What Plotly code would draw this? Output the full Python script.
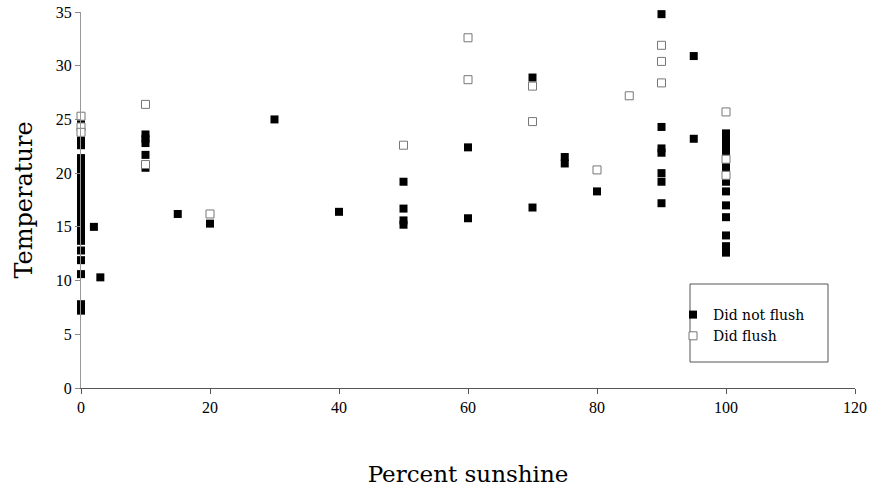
import plotly.graph_objects as go

# Did not flush (filled squares)
nf_x = [0]*26 + [2, 3, 10, 10, 10, 10, 10, 15, 20, 30, 40, 50, 50, 50, 50, 60, 60,
        70, 70, 75, 75, 80, 90, 90, 90, 90, 90, 90, 90, 95, 95] + [100]*14
nf_y = [24.7, 23.0, 22.6, 21.4, 21.0, 20.6, 20.0, 19.5, 19.0, 18.5, 18.0, 17.5, 17.0,
        16.5, 16.0, 15.5, 15.0, 14.5, 14.0, 13.7, 12.8, 11.9, 10.6, 7.8, 7.5, 7.2,
        15.0, 10.3, 23.6, 23.2, 22.8, 21.7, 20.5, 16.2, 15.3, 25.0, 16.4,
        19.2, 16.7, 15.6, 15.2, 22.4, 15.8,
        28.9, 16.8, 21.5, 20.9, 18.3,
        34.8, 24.3, 22.3, 21.9, 20.0, 19.2, 17.2, 30.9, 23.2,
        23.7, 23.1, 22.6, 22.1, 20.7, 19.2, 18.3, 17.0, 15.9, 14.2, 13.2, 12.6, 21.7, 20.2]

# Did flush (open squares)
f_x = [0, 0, 0, 10, 10, 20, 50, 60, 60, 70, 70, 80, 85, 90, 90, 90, 100, 100, 100]
f_y = [25.3, 24.3, 23.8, 26.4, 20.8, 16.2, 22.6, 32.6, 28.7, 28.1, 24.8, 20.3, 27.2,
       31.9, 30.4, 28.4, 25.7, 21.3, 19.8]

x_ticks = [0, 20, 40, 60, 80, 100, 120]
y_ticks = [0, 5, 10, 15, 20, 25, 30, 35]

TICKFONT = "Liberation Serif"
TITLEFONT = "DejaVu Serif"

fig = go.Figure()
fig.add_trace(go.Scatter(
    x=nf_x, y=nf_y, mode="markers", name="Did not flush", cliponaxis=False,
    marker=dict(symbol="square", size=8, color="black", line=dict(width=0)),
))
fig.add_trace(go.Scatter(
    x=f_x, y=f_y, mode="markers", name="Did flush", cliponaxis=False,
    marker=dict(symbol="square", size=8, color="white", line=dict(width=1, color="#777777")),
))

# legend frame
fig.add_shape(type="rect", xref="paper", yref="paper",
              x0=(690 - 81) / 774, x1=(828 - 81) / 774,
              y0=(388 - 362) / 376, y1=(388 - 284) / 376,
              line=dict(color="#555555", width=1), fillcolor="white", layer="below")

fig.update_layout(
    width=878, height=493,
    margin=dict(l=81, r=23, t=12, b=105, autoexpand=False),
    plot_bgcolor="white", paper_bgcolor="white",
    font=dict(family=TICKFONT, color="black"),
    showlegend=True,
    legend=dict(x=(673 - 81) / 774, y=(388 - 299) / 376, xanchor="left", yanchor="top",
                bgcolor="rgba(0,0,0,0)", borderwidth=0,
                font=dict(family=TITLEFONT, size=14), itemwidth=30, tracegroupgap=0),
    xaxis=dict(range=[0, 120], tickvals=x_ticks, ticks="outside", ticklen=5,
               tickcolor="#555555", showline=True, linecolor="#555555", linewidth=1,
               showgrid=False, zeroline=False, tickfont=dict(size=16, family=TICKFONT),
               title=dict(text="Percent sunshine", font=dict(size=23, family=TITLEFONT), standoff=50)),
    yaxis=dict(range=[0, 35], tickvals=y_ticks, ticks="outside", ticklen=5,
               tickcolor="#888888", showline=True, linecolor="#999999", linewidth=1,
               showgrid=False, zeroline=False, tickfont=dict(size=16, family=TICKFONT),
               title=dict(text="Temperature", font=dict(size=24, family=TITLEFONT), standoff=16)),
)

fig.write_html("out.html")
